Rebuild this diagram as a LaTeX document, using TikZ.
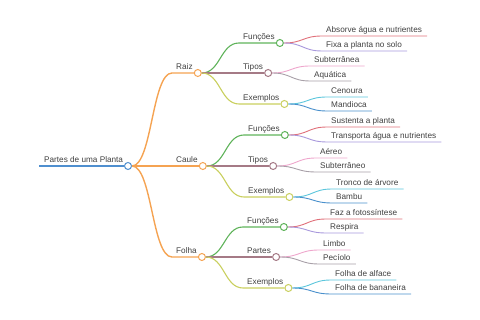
\documentclass[tikz,border=0pt]{standalone}
\usepackage{fontspec}
\setmainfont{Liberation Sans}
\usetikzlibrary{calc}
\definecolor{cRoot}{HTML}{4F8FCF}
\definecolor{cOra}{HTML}{F5A352}
\definecolor{cGrn}{HTML}{5FB35A}
\definecolor{cMau}{HTML}{A57A86}
\definecolor{cOli}{HTML}{C9CF5E}
\definecolor{cRed}{HTML}{E0707A}
\definecolor{cPur}{HTML}{A898DC}
\definecolor{cPnk}{HTML}{EEA6CC}
\definecolor{cGry}{HTML}{A8A0A8}
\definecolor{cCya}{HTML}{5CC6DC}
\definecolor{cBlu}{HTML}{4A90CC}
\definecolor{cTxt}{HTML}{404040}
\tikzset{
  lbl/.style={inner sep=0pt, text=cTxt, font=\fontsize{8.2}{9.8}\selectfont},
  dot/.style={circle, fill=white, line width=1pt, minimum size=7pt, inner sep=0pt},
}
% branch node with circle: #1 name, #2 parent, #3 start x, #4 y, #5 colour, #6 width, #7 text
\newcommand\mmBranch[7]{%
  \coordinate (#1s) at (#3,#4);
  \node[lbl, anchor=base west] (#1t) at ($(#1s)+(4,-3)$) {#7};
  \node[dot, draw=#5] (#1) at ($(#1t.east |- #1s)+(5,0)$) {};
  \draw[#5, line width=#6] let \p1=(#2.east), \p2=(#1s) in
    (\p1) .. controls ({(\x1+\x2)/2},\y1) and ({(\x1+\x2)/2},\y2) .. (\p2) -- (#1.west);
}
% leaf: #1 name, #2 parent, #3 start x, #4 y, #5 colour, #6 text
\newcommand\mmLeaf[6]{%
  \coordinate (#1s) at (#3,#4);
  \node[lbl, anchor=base west] (#1t) at ($(#1s)+(4,-3)$) {#6};
  \coordinate (#1e) at ($(#1t.east |- #1s)+(5,0)$);
  \draw[#5, line width=0.9pt] let \p1=(#2.east), \p2=(#1s) in
    (\p1) .. controls ({(\x1+\x2)/2},\y1) and ({(\x1+\x2)/2},\y2) .. (\p2) -- (#1e);
}
\begin{document}
\begin{tikzpicture}[x=1pt, y=-1pt]
\useasboundingbox (0,0) rectangle (480,320);
% root
\coordinate (roots) at (39,166);
\node[lbl, anchor=base west] (roott) at ($(roots)+(5,-3)$) {Partes de uma Planta};
\node[dot, draw=cRoot] (root) at (128,166) {};
\draw[cRoot, line width=1.8pt] (roots) -- (root.west);
% level 1
\mmBranch{raiz}{root}{172}{73}{cOra}{1.4pt}{Raiz}
\mmBranch{caule}{root}{172}{166}{cOra}{1.4pt}{Caule}
\mmBranch{folha}{root}{172}{257}{cOra}{1.4pt}{Folha}
% Raiz children
\mmBranch{rf}{raiz}{239}{43}{cGrn}{1.1pt}{Funções}
\mmBranch{rt}{raiz}{239}{73}{cMau}{1.1pt}{Tipos}
\mmBranch{re}{raiz}{239}{104}{cOli}{1.1pt}{Exemplos}
% Caule children
\mmBranch{cf}{caule}{244}{135}{cGrn}{1.1pt}{Funções}
\mmBranch{ct}{caule}{244}{166}{cMau}{1.1pt}{Tipos}
\mmBranch{ce}{caule}{244}{197}{cOli}{1.1pt}{Exemplos}
% Folha children
\mmBranch{ff}{folha}{243}{227}{cGrn}{1.1pt}{Funções}
\mmBranch{fp}{folha}{243}{257}{cMau}{1.1pt}{Partes}
\mmBranch{fe}{folha}{243}{288}{cOli}{1.1pt}{Exemplos}
% leaves
\mmLeaf{rf1}{rf}{322}{36}{cRed}{Absorve água e nutrientes}
\mmLeaf{rf2}{rf}{322}{51}{cPur}{Fixa a planta no solo}
\mmLeaf{rt1}{rt}{310}{66}{cPnk}{Subterrânea}
\mmLeaf{rt2}{rt}{310}{81}{cGry}{Aquática}
\mmLeaf{re1}{re}{327}{97}{cCya}{Cenoura}
\mmLeaf{re2}{re}{327}{111}{cBlu}{Mandioca}
\mmLeaf{cf1}{cf}{327}{127}{cRed}{Sustenta a planta}
\mmLeaf{cf2}{cf}{327}{142}{cPur}{Transporta água e nutrientes}
\mmLeaf{ct1}{ct}{316}{158}{cPnk}{Aéreo}
\mmLeaf{ct2}{ct}{316}{172}{cGry}{Subterrâneo}
\mmLeaf{ce1}{ce}{332}{189}{cCya}{Tronco de árvore}
\mmLeaf{ce2}{ce}{332}{203}{cBlu}{Bambu}
\mmLeaf{ff1}{ff}{326}{219}{cRed}{Faz a fotossíntese}
\mmLeaf{ff2}{ff}{326}{233}{cPur}{Respira}
\mmLeaf{fp1}{fp}{319}{250}{cPnk}{Limbo}
\mmLeaf{fp2}{fp}{319}{264}{cGry}{Pecíolo}
\mmLeaf{fe1}{fe}{331}{280}{cCya}{Folha de alface}
\mmLeaf{fe2}{fe}{331}{294}{cBlu}{Folha de bananeira}
\end{tikzpicture}
\end{document}
